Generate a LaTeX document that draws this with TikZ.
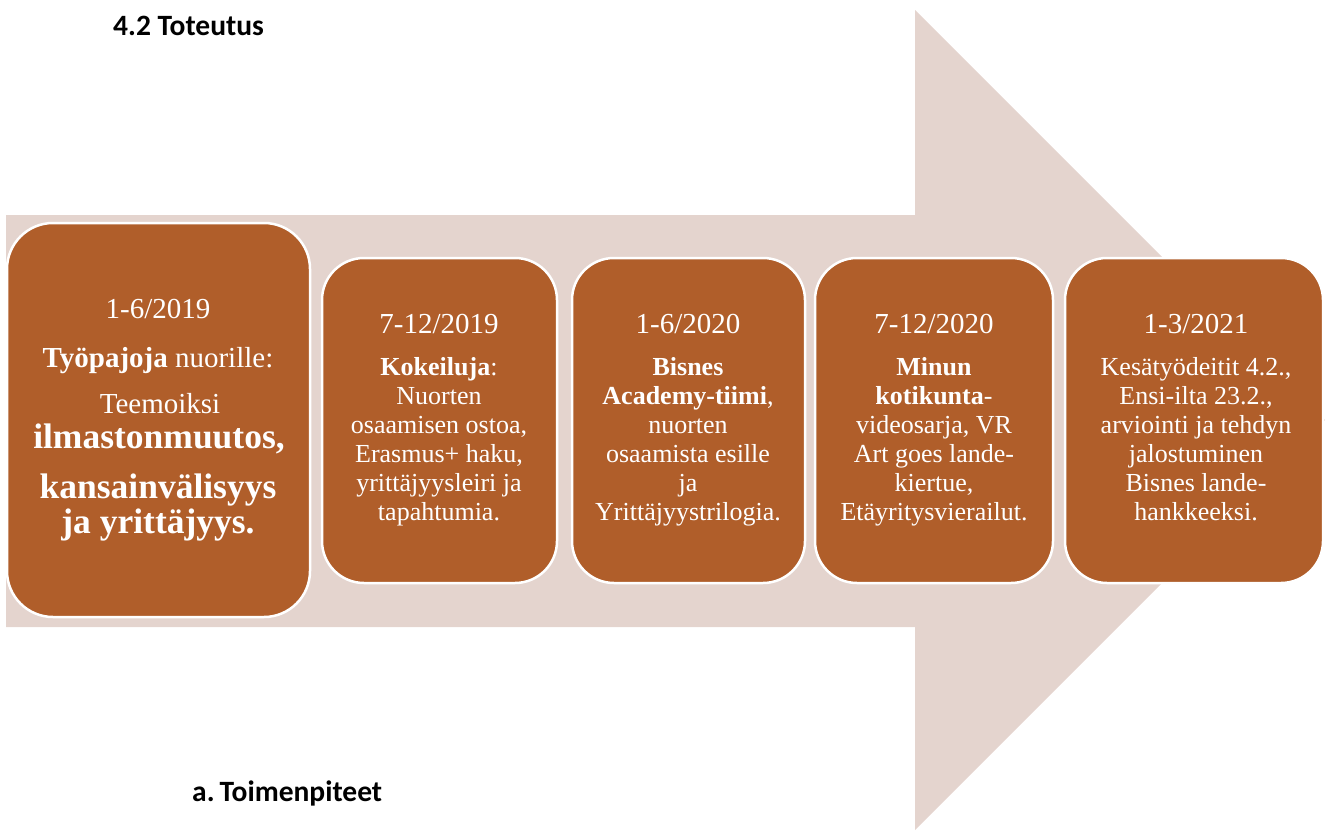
\documentclass[tikz,border=0pt]{standalone}
\usepackage{fontspec}
\setmainfont{Liberation Serif}
\newfontfamily\headfont{Carlito}
\definecolor{arrowpale}{RGB}{228,212,206}
\definecolor{boxbrown}{RGB}{176,94,42}
\begin{document}
\begin{tikzpicture}[x=1pt,y=-1pt,
  stagebox/.style={fill=boxbrown,draw=white,line width=2.5pt,rounded corners=42pt,inner sep=0pt},
  datetext/.style={text=white,font=\fontsize{29}{32}\selectfont,anchor=base,inner sep=0pt},
  bodytext/.style={text=white,font=\fontsize{26}{29}\selectfont,align=center,anchor=base,inner sep=0pt},
  onetext/.style={text=white,anchor=base,inner sep=0pt,font=\fontsize{29}{32}\selectfont},
  bigtext/.style={text=white,anchor=base,inner sep=0pt,font=\bfseries\fontsize{35.5}{38}\selectfont},
  headtext/.style={font=\headfont\bfseries\fontsize{29.5}{32}\selectfont,anchor=base west,inner sep=0pt}]
\useasboundingbox (0,0) rectangle (1327,830);
% big arrow
\fill[arrowpale] (6,215) -- (915,215) -- (915,10) -- (1325,420) -- (915,830) -- (915,627) -- (6,627) -- cycle;
% headings
\node[headtext] (h1) at (113,35) {4.2 Toteutus};
\node[headtext] (h2) at (192,801) {a.\,Toimenpiteet};
% boxes
\node[stagebox,minimum width=303pt,minimum height=394pt,rounded corners=46pt] (b1) at (158.5,420) {};
\node[stagebox,minimum width=235pt,minimum height=325pt] (b2) at (439.5,420.5) {};
\node[stagebox,minimum width=233pt,minimum height=325pt] (b3) at (688.5,420.5) {};
\node[stagebox,minimum width=238pt,minimum height=325pt] (b4) at (934,420.5) {};
\node[stagebox,minimum width=258pt,minimum height=325pt] (b5) at (1194,420.5) {};
% box 1 text
\node[datetext] (d1) at (158,318) {1-6/2019};
\node[onetext] (t1a) at (158,367) {\textbf{Työpajoja} nuorille:};
\node[onetext] (t1b) at (160,413) {Teemoiksi};
\node[bigtext] (t1c) at (159,448) {ilmastonmuutos,};
\node[bigtext] (t1d) at (158,498) {kansainvälisyys};
\node[bigtext] (t1e) at (158,533) {ja yrittäjyys.};
% box 2
\node[datetext] (d2) at (439,333) {7-12/2019};
\node[bodytext] (t2) at (439,520) {\textbf{Kokeiluja}:\\Nuorten\\osaamisen ostoa,\\Erasmus+ haku,\\yrittäjyysleiri ja\\tapahtumia.};
% box 3
\node[datetext] (d3) at (688,333) {1-6/2020};
\node[bodytext] (t3) at (688,520) {\textbf{Bisnes}\\\textbf{Academy-tiimi},\\nuorten\\osaamista esille\\ja\\Yrittäjyystrilogia.};
% box 4
\node[datetext] (d4) at (934,333) {7-12/2020};
\node[bodytext] (t4) at (934,520) {\textbf{Minun}\\\textbf{kotikunta}-\\videosarja, VR\\Art goes lande-\\kiertue,\\Etäyritysvierailut.};
% box 5
\node[datetext] (d5) at (1196,333) {1-3/2021};
\node[bodytext] (t5) at (1196,520) {Kesätyödeitit 4.2.,\\Ensi-ilta 23.2.,\\arviointi ja tehdyn\\jalostuminen\\Bisnes lande-\\hankkeeksi.};
\end{tikzpicture}
\end{document}
